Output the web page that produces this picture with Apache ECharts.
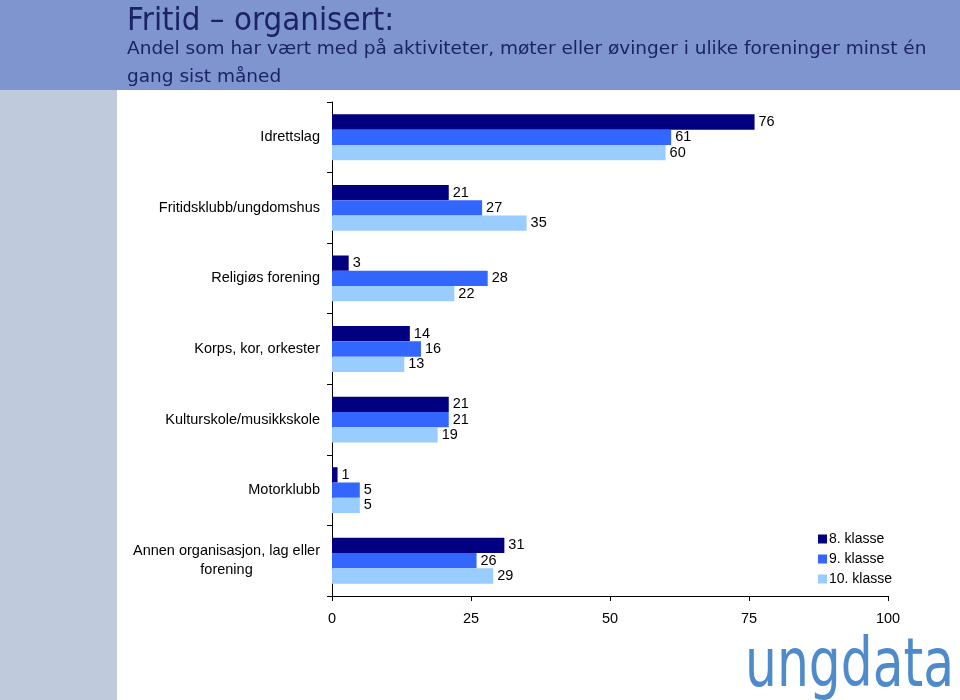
<!DOCTYPE html>
<html>
<head>
<meta charset="utf-8">
<script src="https://cdn.jsdelivr.net/npm/echarts@6/dist/echarts.min.js"></script>
<style>
html,body{margin:0;padding:0;background:#fff;}
#c{width:960px;height:700px;}
</style>
</head>
<body>
<div id="c"></div>
<script>
const categories = ["Idrettslag","Fritidsklubb/ungdomshus","Religiøs forening","Korps, kor, orkester","Kulturskole/musikkskole","Motorklubb","Annen organisasjon, lag eller forening"];
const seriesNames = ["8. klasse","9. klasse","10. klasse"];
const klasse8 = [76,21,3,14,21,1,31];
const klasse9 = [61,27,28,16,21,5,26];
const klasse10 = [60,35,22,13,19,5,29];
const xTicks = [0,25,50,75,100];
const colors = ["#000080","#3366ff","#99ccff"];

const chart = echarts.init(document.getElementById('c'), null, {renderer:'canvas'});
const font = '"Liberation Sans", Arial, sans-serif';
const mk = (name, data, i) => ({
  name, type:'bar', data, barGap:'0%', barCategoryGap:'35%',
  itemStyle:{color:colors[i]},
  label:{show:true, position:'right', distance:4, color:'#000', fontSize:14.5, fontFamily:font},
  animation:false
});
chart.setOption({
  animation:false,
  backgroundColor:'#fff',
  graphic:[
    {type:'rect', left:0, top:0, shape:{width:960, height:90}, style:{fill:'#7f95d0'}, z:-1},
    {type:'rect', left:0, top:90, shape:{width:117, height:610}, style:{fill:'#c0cadd'}, z:-1},
    {type:'text', x:127, y:6, scaleX:0.92, style:{text:'Fritid – organisert:', fill:'#1c2266', font:'32px "DejaVu Sans", Verdana, sans-serif'}},
    {type:'text', left:127, top:35, style:{text:'Andel som har vært med på aktiviteter, møter eller øvinger i ulike foreninger minst én\ngang sist måned', fill:'#1c2266', font:'18.5px "DejaVu Sans", Verdana, sans-serif', lineHeight:28}},
    {type:'text', x:745, y:634, scaleX:0.74, style:{text:'ungdata', fill:'#4f8bcb', font:'68px "DejaVu Sans", sans-serif'}}
  ],
  legend:{
    data:seriesNames, orient:'vertical', left:813, top:527,
    itemWidth:9, itemHeight:9, itemGap:6, icon:'rect',
    textStyle:{fontSize:14, fontFamily:font, color:'#000', padding:[0,0,0,-3]}
  },
  grid:{left:332, right:72, top:102, bottom:104, containLabel:false},
  xAxis:{
    type:'value', min:0, max:100, interval:25,
    axisLine:{show:true, lineStyle:{color:'#000'}},
    axisTick:{show:true, length:5, lineStyle:{color:'#000'}},
    axisLabel:{color:'#000', fontSize:14.5, fontFamily:font, margin:15, formatter:v => xTicks.includes(v) ? String(v) : ''},
    splitLine:{show:false}
  },
  yAxis:{
    type:'category', data:categories, inverse:true,
    axisLine:{show:true, lineStyle:{color:'#000'}},
    axisTick:{show:true, length:5, lineStyle:{color:'#000'}},
    axisLabel:{
      color:'#000', fontSize:14.5, fontFamily:font, margin:12,
      formatter: v => v === "Annen organisasjon, lag eller forening" ? '{c|Annen organisasjon, lag eller}\n{c|forening}' : v,
      rich:{c:{align:'center', fontSize:14.5, fontFamily:font, color:'#000', lineHeight:19}}
    }
  },
  series:[mk(seriesNames[0], klasse8, 0), mk(seriesNames[1], klasse9, 1), mk(seriesNames[2], klasse10, 2)]
});
</script>
</body>
</html>
